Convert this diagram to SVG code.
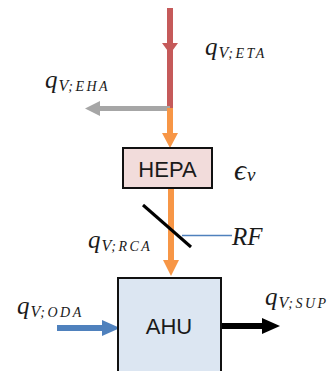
<svg xmlns="http://www.w3.org/2000/svg" width="333" height="371" viewBox="0 0 333 371">
<style>
.m{font-family:"Liberation Serif","DejaVu Serif",serif;font-style:italic;font-size:25px;fill:#1a1a1a}
.s{font-size:16px}
.ss{font-size:14px;letter-spacing:2.5px}
.box{stroke:#111;stroke-width:2}
.lbl{font-family:"Liberation Sans",Arial,sans-serif;font-size:22px;fill:#1a1a1a;text-anchor:middle}
</style>
<rect width="333" height="371" fill="#fff"/>
<g id="connectors">
  <line x1="170" y1="8" x2="170" y2="109" stroke="#c55a5a" stroke-width="6"/>
  <polygon points="162,43 178,43 170,54" fill="#c55a5a"/>
  <line x1="170" y1="108.5" x2="98" y2="108.5" stroke="#a6a6a6" stroke-width="5"/>
  <polygon points="100,101 100,116 85,108.5" fill="#a6a6a6"/>
  <line x1="170" y1="108" x2="170" y2="135" stroke="#f79646" stroke-width="6"/>
  <polygon points="162,133 178,133 170,148" fill="#f79646"/>
  <line x1="171" y1="188" x2="171" y2="262" stroke="#f79646" stroke-width="6"/>
  <polygon points="163,260 179,260 171,276" fill="#f79646"/>
  <line x1="143" y1="205" x2="191" y2="247" stroke="#000" stroke-width="3"/>
  <line x1="182" y1="235.5" x2="232" y2="235.5" stroke="#4f81bd" stroke-width="1.5"/>
  <line x1="57" y1="328" x2="104" y2="328" stroke="#4f81bd" stroke-width="6"/>
  <polygon points="102,320 102,336 120,328" fill="#4f81bd"/>
  <line x1="221" y1="326" x2="264" y2="326" stroke="#000" stroke-width="6"/>
  <polygon points="262,318 262,334 280,326" fill="#000"/>
</g>
<g id="hepa">
  <rect class="box" x="123" y="148" width="89" height="40" fill="#f2dcdb"/>
  <text class="lbl" x="167.5" y="177">HEPA</text>
</g>
<g id="ahu">
  <rect class="box" x="118" y="278" width="103" height="100" fill="#dce6f2"/>
  <text class="lbl" x="169" y="334">AHU</text>
</g>
<g id="labels">
  <text class="m" x="205" y="55">q<tspan class="s" dy="3" dx="1">V</tspan><tspan class="ss">;ETA</tspan></text>
  <text class="m" x="45" y="88">q<tspan class="s" dy="3" dx="1">V</tspan><tspan class="ss">;EHA</tspan></text>
  <text class="m" x="234" y="180" style="font-size:30px">ϵ<tspan style="font-size:19px" dy="1" dx="1">v</tspan></text>
  <text class="m" x="88" y="248">q<tspan class="s" dy="3" dx="1">V</tspan><tspan class="ss">;RCA</tspan></text>
  <text class="m" x="232" y="245">RF</text>
  <text class="m" x="17" y="314">q<tspan class="s" dy="3" dx="1">V</tspan><tspan class="ss">;ODA</tspan></text>
  <text class="m" x="265" y="305">q<tspan class="s" dy="3" dx="1">V</tspan><tspan class="ss">;SUP</tspan></text>
</g>
</svg>
